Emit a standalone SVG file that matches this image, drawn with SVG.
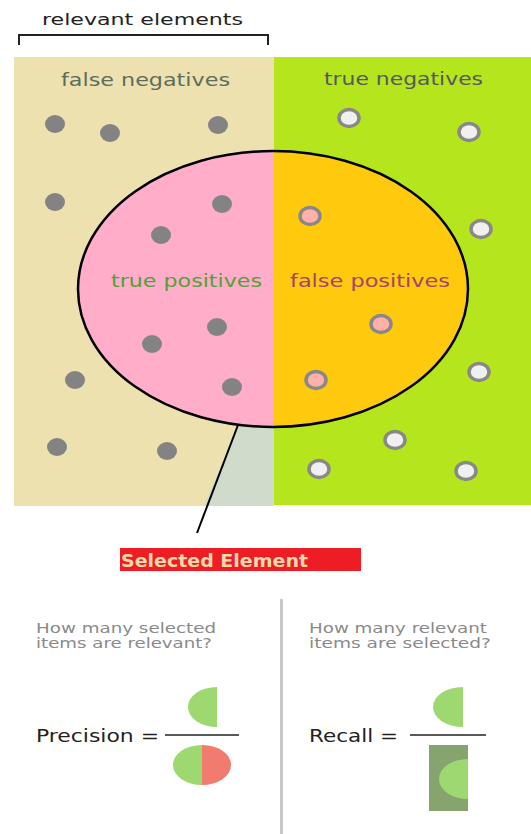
<svg xmlns="http://www.w3.org/2000/svg" width="531" height="834" viewBox="0 0 531 834">
<style>
text{font-family:"DejaVu Sans","Liberation Sans",sans-serif;}
.dot{fill:#838383;}
.ring{fill:#f0f0f0;stroke:#888;stroke-width:3.5;}
.ringp{fill:#ffb0a8;stroke:#888;stroke-width:3.5;}
.lbl{font-size:17px;}
.q{font-size:14px;fill:#8a8a8a;}
.eq{font-size:18px;fill:#222;}
.g{fill:#9dd871;}
</style>
<rect width="531" height="834" fill="#fff"/>
<g id="bracket">
<text x="42" y="25" font-size="16" fill="#222" textLength="201" lengthAdjust="spacingAndGlyphs">relevant elements</text>
<path d="M19 45 V35 H268 V45" fill="none" stroke="#222" stroke-width="2"/>
</g>
<g id="panels">
<rect x="14" y="57" width="260" height="449" fill="#ede1b0"/>
<rect x="274" y="57" width="257" height="448" fill="#b5e51d"/>
<polygon points="238,425 274,427 274,506 204,506" fill="#d1dbcb"/>
</g>
<g id="false-negatives">
<text class="lbl" x="61" y="86" fill="#5b6e5c" textLength="169" lengthAdjust="spacingAndGlyphs">false negatives</text>
</g>
<g id="true-negatives">
<text class="lbl" x="324" y="85" fill="#55585f" textLength="159" lengthAdjust="spacingAndGlyphs">true negatives</text>
</g>
<g id="selected">
<clipPath id="lh"><rect x="0" y="0" width="274" height="834"/></clipPath>
<clipPath id="rh"><rect x="274" y="0" width="257" height="834"/></clipPath>
<ellipse cx="273" cy="289" rx="195" ry="138" fill="#ffadc8" clip-path="url(#lh)"/>
<ellipse cx="273" cy="289" rx="195" ry="138" fill="#ffc90e" clip-path="url(#rh)"/>
<ellipse cx="273" cy="289" rx="195" ry="138" fill="none" stroke="#000" stroke-width="2.5"/>
</g>
<g id="true-positives">
<text class="lbl" x="111" y="287" fill="#52a038" textLength="151" lengthAdjust="spacingAndGlyphs">true positives</text>
</g>
<g id="false-positives">
<text class="lbl" x="290" y="287" fill="#a8426a" textLength="160" lengthAdjust="spacingAndGlyphs">false positives</text>
</g>
<g id="relevant-dots">
<ellipse class="dot" cx="55" cy="124" rx="10" ry="9"/>
<ellipse class="dot" cx="110" cy="133" rx="10" ry="9"/>
<ellipse class="dot" cx="218" cy="125" rx="10" ry="9"/>
<ellipse class="dot" cx="55" cy="202" rx="10" ry="9"/>
<ellipse class="dot" cx="222" cy="204" rx="10" ry="9"/>
<ellipse class="dot" cx="161" cy="235" rx="10" ry="9"/>
<ellipse class="dot" cx="217" cy="327" rx="10" ry="9"/>
<ellipse class="dot" cx="152" cy="344" rx="10" ry="9"/>
<ellipse class="dot" cx="75" cy="380" rx="10" ry="9"/>
<ellipse class="dot" cx="232" cy="387" rx="10" ry="9"/>
<ellipse class="dot" cx="57" cy="447" rx="10" ry="9"/>
<ellipse class="dot" cx="167" cy="451" rx="10" ry="9"/>
</g>
<g id="irrelevant-dots">
<ellipse class="ring" cx="349" cy="118" rx="10" ry="8.5"/>
<ellipse class="ring" cx="469" cy="132" rx="10" ry="8.5"/>
<ellipse class="ringp" cx="310" cy="216" rx="10" ry="8.5"/>
<ellipse class="ring" cx="481" cy="229" rx="10" ry="8.5"/>
<ellipse class="ringp" cx="381" cy="324" rx="10" ry="8.5"/>
<ellipse class="ring" cx="479" cy="372" rx="10" ry="8.5"/>
<ellipse class="ringp" cx="316" cy="380" rx="10" ry="8.5"/>
<ellipse class="ring" cx="395" cy="440" rx="10" ry="8.5"/>
<ellipse class="ring" cx="319" cy="469" rx="10" ry="8.5"/>
<ellipse class="ring" cx="466" cy="471" rx="10" ry="8.5"/>
</g>
<g id="connectors">
<line x1="238" y1="425" x2="197" y2="533" stroke="#000" stroke-width="2"/>
</g>
<g id="selected-label">
<rect x="120" y="548" width="241" height="23" fill="#ee1c24"/>
<text x="121" y="567" font-size="17" font-weight="bold" fill="#f6d9a8" textLength="187" lengthAdjust="spacingAndGlyphs">Selected Element</text>
</g>
<g id="divider">
<line x1="281.5" y1="599" x2="281.5" y2="834" stroke="#c8c8c8" stroke-width="3"/>
</g>
<g id="precision">
<text class="q" x="36" y="633" textLength="180" lengthAdjust="spacingAndGlyphs">How many selected</text>
<text class="q" x="36" y="648" textLength="176" lengthAdjust="spacingAndGlyphs">items are relevant?</text>
<text class="eq" x="36" y="742" textLength="123" lengthAdjust="spacingAndGlyphs">Precision =</text>
<line x1="165" y1="735" x2="239" y2="735" stroke="#222" stroke-width="1.5"/>
<path class="g" d="M217 687 A29 20 0 0 0 217 727 Z"/>
<path class="g" d="M202 745 A29 20 0 0 0 202 785 Z"/>
<path d="M202 745 A29 20 0 0 1 202 785 Z" fill="#f07b6e"/>
</g>
<g id="recall">
<text class="q" x="309" y="633" textLength="178" lengthAdjust="spacingAndGlyphs">How many relevant</text>
<text class="q" x="309" y="648" textLength="182" lengthAdjust="spacingAndGlyphs">items are selected?</text>
<text class="eq" x="309" y="742" textLength="89" lengthAdjust="spacingAndGlyphs">Recall =</text>
<line x1="410" y1="735" x2="486" y2="735" stroke="#222" stroke-width="1.5"/>
<path class="g" d="M463 687 A30 20 0 0 0 463 727 Z"/>
<rect x="429" y="745" width="39" height="66" fill="#86a46e"/>
<path class="g" d="M468 759 A29 20 0 0 0 468 799 Z"/>
</g>
</svg>
